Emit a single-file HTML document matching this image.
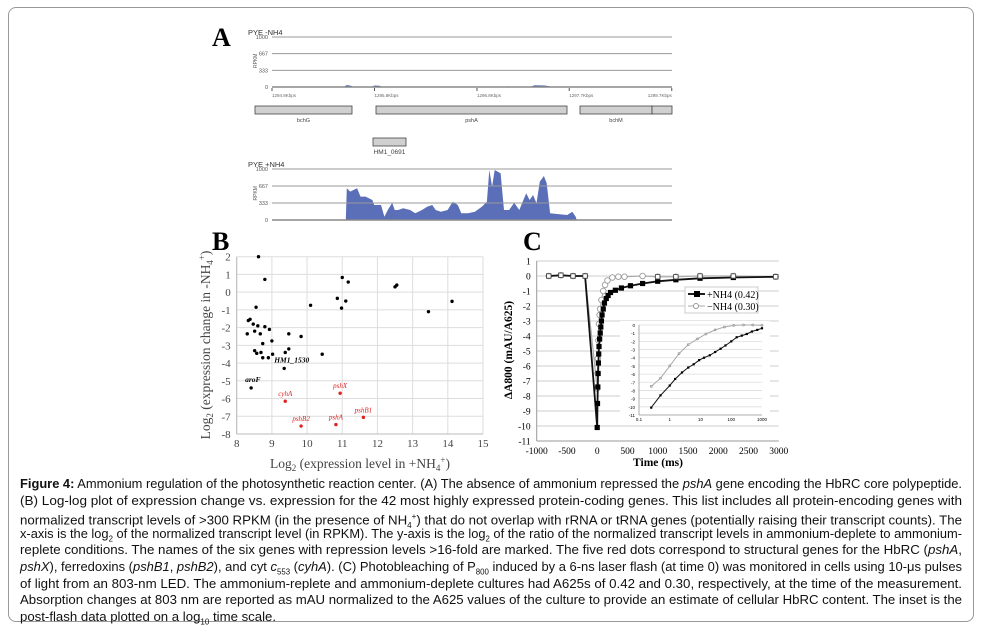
<!DOCTYPE html>
<html><head><meta charset="utf-8"><style>
body{margin:0;background:#fff;width:983px;height:634px;overflow:hidden;font-family:"Liberation Sans",sans-serif}
#frame{position:absolute;left:8px;top:7px;width:966px;height:615px;border:1px solid #999;border-radius:8px;box-sizing:border-box}
#cap{position:absolute;left:20px;top:476px;width:942px;font-family:"Liberation Sans",sans-serif;font-size:13.2px;line-height:16.6px;color:#111}
#cap div{white-space:nowrap;height:16.6px}
#cap div span.ln{display:inline-block;transform-origin:0 0}
sub{font-size:8px;line-height:0}
svg{position:absolute;left:0;top:0}
</style></head><body>
<div id="frame"></div>
<svg id="fig" width="983" height="634"></svg>
<div id="cap">
<div><span class="ln"><b>Figure 4:</b> Ammonium regulation of the photosynthetic reaction center. (A) The absence of ammonium repressed the <i>pshA</i> gene encoding the HbRC core polypeptide.</span></div>
<div><span class="ln">(B) Log-log plot of expression change vs. expression for the 42 most highly expressed protein-coding genes. This list includes all protein-encoding genes with</span></div>
<div><span class="ln">normalized transcript levels of &gt;300 RPKM (in the presence of NH<sub>4</sub><sup style="font-size:8px">+</sup>) that do not overlap with rRNA or tRNA genes (potentially raising their transcript counts). The</span></div>
<div><span class="ln">x-axis is the log<sub>2</sub> of the normalized transcript level (in RPKM). The y-axis is the log<sub>2</sub> of the ratio of the normalized transcript levels in ammonium-deplete to ammonium-</span></div>
<div><span class="ln">replete conditions. The names of the six genes with repression levels &gt;16-fold are marked. The five red dots correspond to structural genes for the HbRC (<i>pshA</i>,</span></div>
<div><span class="ln"><i>pshX</i>), ferredoxins (<i>pshB1</i>, <i>pshB2</i>), and cyt <i>c</i><sub>553</sub> (<i>cyhA</i>). (C) Photobleaching of P<sub>800</sub> induced by a 6-ns laser flash (at time 0) was monitored in cells using 10-μs pulses</span></div>
<div><span class="ln">of light from an 803-nm LED. The ammonium-replete and ammonium-deplete cultures had A625s of 0.42 and 0.30, respectively, at the time of the measurement.</span></div>
<div><span class="ln">Absorption changes at 803 nm are reported as mAU normalized to the A625 values of the culture to provide an estimate of cellular HbRC content. The inset is the</span></div>
<div><span class="ln" id="lastln">post-flash data plotted on a log<sub>10</sub> time scale.</span></div>
</div>
<script>
// ---- Panel A data ----
const covPlusKb=[0.72,0.73,0.763,0.83,0.863,0.913,0.98,0.997,1.063,1.097,1.13,1.173,1.197,1.23,1.28,1.347,1.397,1.463,1.513,1.563,1.597,1.647,1.713,1.763,1.813,1.847,1.913,1.98,2.047,2.097,2.12,2.147,2.173,2.23,2.263,2.313,2.363,2.413,2.48,2.513,2.547,2.58,2.613,2.653,2.68,2.713,2.78,2.88,2.93,2.963,2.973];
const covPlus=[0,621,556,621,458,458,392,294,294,65,196,340,196,196,229,196,131,196,261,294,196,163,196,359,294,131,131,163,261,359,980,654,980,915,196,196,340,196,523,392,490,327,752,863,719,131,118,98,163,65,0];
const covMinusKb=[0.70,0.73,0.77,0.80,0.97,1.0,1.05,1.08,2.25,2.30,2.34,2.52,2.56,2.66,2.72,2.75];
const covMinus=[0,40,25,0,0,30,25,0,0,15,0,0,35,30,10,0];
const rpkmTicks=[0,333,667,1000];
const coordLabels=["1294.8Kbps","1295.8Kbps","1296.8Kbps","1297.7Kbps","1298.7Kbps"];
const coordKb=[0,1,2,2.9,3.9];
// ---- Panel B data ----
const bX=[8.62,8.8,8.55,8.38,8.33,8.47,8.6,8.3,8.51,8.67,8.8,8.93,8.74,9.0,8.51,8.57,8.69,8.74,8.9,9.02,9.48,9.48,9.38,9.35,9.83,10.1,10.43,10.86,11.0,11.17,11.1,10.98,12.5,12.55,13.45,14.12,8.41];
const bY=[2.0,0.72,-0.85,-1.53,-1.6,-1.8,-1.9,-2.35,-2.2,-2.35,-1.95,-2.1,-2.9,-2.75,-3.3,-3.45,-3.4,-3.7,-3.7,-3.5,-2.35,-3.2,-3.4,-4.3,-2.5,-0.74,-3.5,-0.35,0.83,0.57,-0.5,-0.9,0.3,0.4,-1.1,-0.52,-5.4];
const redNames=["cyhA","pshX","pshB1","pshB2","pshA"];
const redX=[9.38,10.94,11.6,9.83,10.82];
const redY=[-6.15,-5.7,-7.06,-7.55,-7.47];
const bXTicks=[8,9,10,11,12,13,14,15];
const bYTicks=[2,1,0,-1,-2,-3,-4,-5,-6,-7,-8];
// ---- Panel C data ----
const plusT=[-800,-600,-400,-200,0,5,10,15,20,25,30,40,50,60,70,80,100,120,150,180,220,300,400,550,750,1000,1300,1700,2250,2950];
const plusV=[0,0.05,0,0,-10.1,-8.5,-7.4,-6.5,-5.8,-5.2,-4.7,-4.2,-3.8,-3.4,-3.0,-2.6,-2.2,-1.8,-1.5,-1.3,-1.1,-0.95,-0.8,-0.65,-0.5,-0.35,-0.25,-0.15,-0.1,-0.05];
const minusT=[-800,-600,-400,-200,0,5,10,20,30,40,50,70,100,130,170,250,350,450,750,1000,1300,1700,2250,2950];
const minusV=[0,0.05,0,0,-7.5,-6.5,-5.5,-4.3,-3.2,-2.6,-2.2,-1.6,-1.0,-0.6,-0.3,-0.1,-0.05,-0.05,0,-0.05,-0.05,0,0,-0.05];
const cXTicks=[-1000,-500,0,500,1000,1500,2000,2500,3000];
const cYTicks=[1,0,-1,-2,-3,-4,-5,-6,-7,-8,-9,-10,-11];
const inPlusT=[0.25,0.5,1,1.5,2.5,4,6,9,13,20,30,45,65,100,150,220,320,470,700,1000];
const inPlusV=[-10.1,-8.6,-7.4,-6.6,-5.8,-5.2,-4.8,-4.3,-4.0,-3.7,-3.3,-2.9,-2.5,-2.0,-1.5,-1.3,-1.1,-0.8,-0.6,-0.4];
const inMinusT=[0.25,0.5,1,2,4,8,15,30,60,120,250,500,1000];
const inMinusV=[-7.5,-6.5,-5.0,-3.5,-2.4,-1.7,-1.1,-0.6,-0.25,-0.05,0,0,-0.05];
const inXTicks=[0.1,1,10,100,1000];
const inXLabels=["0.1","1","10","100","1000"];

// caption line fitting
(function(){const lines=document.querySelectorAll('#cap span.ln');let last=1;
lines.forEach(s=>{if(s.id==='lastln')return;const w=s.getBoundingClientRect().width;last=942/w;s.style.transform='scaleX('+last+')';});
document.getElementById('lastln').style.transform='scaleX('+last+')';})();

const svg=document.getElementById('fig');
const NS='http://www.w3.org/2000/svg';
function mk(tag,at,parent,txt){const e=document.createElementNS(NS,tag);for(const k in at)e.setAttribute(k,at[k]);if(txt!==undefined)e.textContent=txt;(parent||svg).appendChild(e);return e;}

// ===== Panel A =====
const L=mk('text',{x:212,y:46,'font-family':'Liberation Serif','font-size':26,'font-weight':'bold'},svg,'A');

const ax=kb=>272+kb*102.5;
function track(top,bottom,title,kbs,vals,name){
  const g=mk('g',{});
  
  const ay=v=>bottom-(v/1000)*(bottom-top);
  let d='M'+ax(kbs[0])+','+bottom;
  kbs.forEach((k,i)=>{d+=' L'+ax(k).toFixed(1)+','+ay(vals[i]).toFixed(1);});
  d+=' L'+ax(kbs[kbs.length-1])+','+bottom+'Z';
  const p=mk('path',{d:d,fill:'#5a6fb8'},g);
  
  rpkmTicks.forEach(t=>{
    mk('line',{x1:272,x2:672,y1:ay(t),y2:ay(t),stroke:t==0?'#888':'#999','stroke-width':t==0?1.5:1},g);
    mk('text',{x:268,y:ay(t)+2,'font-size':5.5,'text-anchor':'end',fill:'#555'},g,String(t));
  });
  mk('text',{x:248,y:top-2,'font-size':7.5,fill:'#333'},g,title);
  mk('text',{x:0,y:0,'font-size':5,fill:'#555',transform:`translate(257,${(top+bottom)/2+6}) rotate(-90)`},g,'RPKM');
  return g;
}
track(37,87,'PYE -NH4',covMinusKb,covMinus,'track-minus-nh4');
coordKb.forEach((k,i)=>{mk('line',{x1:ax(k),x2:ax(k),y1:88,y2:91,stroke:'#555'});mk('text',{x:ax(k),y:97,'font-size':4.5,fill:'#666','text-anchor':i==4?'end':'start'},svg,coordLabels[i]);});
track(169,220,'PYE +NH4',covPlusKb,covPlus,'track-plus-nh4');
const genes=[['bchG',255,352,106],['pshA',376,567,106],['bchM',580,652,106],['',652,672,106],['HM1_0691',373,406,138]];
genes.forEach(g=>{
  const r=mk('rect',{x:g[1],y:g[3],width:g[2]-g[1],height:8,fill:'#d0d0d0',stroke:'#444','stroke-width':0.8});
  
  if(g[0])mk('text',{x:(g[1]+g[2])/2,y:g[3]+16,'font-size':g[0]=='HM1_0691'?6.5:5.5,'text-anchor':'middle',fill:'#444'},svg,g[0]);
});

// ===== Panel B =====
const B=mk('text',{x:212,y:250,'font-family':'Liberation Serif','font-size':26,'font-weight':'bold'},svg,'B');

const bx=v=>236.7+(v-8)*(483-236.7)/7, by=v=>256.7-(v-2)*(434-256.7)/10;
const gb=mk('g',{});
bXTicks.forEach(t=>{mk('line',{x1:bx(t),x2:bx(t),y1:by(2),y2:by(-8),stroke:'#ddd'},gb);mk('text',{x:bx(t),y:by(-8)+13,'font-family':'Liberation Serif','font-size':11,'text-anchor':'middle',fill:'#444'},gb,String(t));});
bYTicks.forEach(t=>{mk('line',{x1:bx(8),x2:bx(15),y1:by(t),y2:by(t),stroke:'#ddd'},gb);mk('text',{x:bx(8)-6,y:by(t)+4,'font-family':'Liberation Serif','font-size':11,'text-anchor':'end',fill:'#444'},gb,String(t));});
mk('line',{x1:bx(8),x2:bx(8),y1:by(2),y2:by(-8),stroke:'#bbb'},gb);
mk('line',{x1:bx(8),x2:bx(15),y1:by(-8),y2:by(-8),stroke:'#bbb'},gb);
bX.forEach((x,i)=>{const c=mk('circle',{cx:bx(x),cy:by(bY[i]),r:1.7,fill:'#000'},gb);});
redX.forEach((x,i)=>{const c=mk('circle',{cx:bx(x),cy:by(redY[i]),r:1.7,fill:'#d22'},gb);
  mk('text',{x:bx(x),y:by(redY[i])-5,'font-family':'Liberation Serif','font-size':7,'font-style':'italic','text-anchor':'middle',fill:'#d22'},gb,redNames[i]);});
mk('text',{x:bx(9.35)-10,y:by(-4.3)-6,'font-family':'Liberation Serif','font-size':7.5,'font-style':'italic','font-weight':'bold'},gb,'HM1_1530');
mk('text',{x:bx(8.41)-6,y:by(-5.4)-6,'font-family':'Liberation Serif','font-size':7.5,'font-style':'italic','font-weight':'bold'},gb,'aroF');
const bxt=mk('text',{x:360,y:468,'font-family':'Liberation Serif','font-size':13.5,'text-anchor':'middle',fill:'#444'},svg);
bxt.innerHTML='Log<tspan font-size="9" dy="3">2</tspan><tspan dy="-3"> (expression level in +NH</tspan><tspan font-size="9" dy="3">4</tspan><tspan font-size="9" dy="-8">+</tspan><tspan dy="5">)</tspan>';

const byt=mk('text',{x:0,y:0,'font-family':'Liberation Serif','font-size':13.5,'text-anchor':'middle',fill:'#444',transform:'translate(210,345) rotate(-90)'},svg);
byt.innerHTML='Log<tspan font-size="9" dy="3">2</tspan><tspan dy="-3"> (expression change in -NH</tspan><tspan font-size="9" dy="3">4</tspan><tspan font-size="9" dy="-8">+</tspan><tspan dy="5">)</tspan>';


// ===== Panel C =====
const C=mk('text',{x:523,y:250,'font-family':'Liberation Serif','font-size':26,'font-weight':'bold'},svg,'C');

const cx=t=>536.7+(t+1000)*(778.7-536.7)/4000, cy=v=>261+(1-v)*15;
const gc=mk('g',{});
cYTicks.forEach(t=>{mk('line',{x1:cx(-1000),x2:cx(3000),y1:cy(t),y2:cy(t),stroke:'#ccc'},gc);mk('text',{x:cx(-1000)-6,y:cy(t)+3.5,'font-family':'Liberation Serif','font-size':9.5,'text-anchor':'end'},gc,String(t));});
cXTicks.forEach(t=>{mk('text',{x:cx(t),y:cy(-11)+13,'font-family':'Liberation Serif','font-size':9.5,'text-anchor':'middle'},gc,String(t));});
mk('line',{x1:cx(-1000),x2:cx(-1000),y1:cy(1),y2:cy(-11),stroke:'#999'},gc);
mk('line',{x1:cx(-1000),x2:cx(3000),y1:cy(-11),y2:cy(-11),stroke:'#999'},gc);
function series(T,V,fx,fy,color,w,marker,name,par,ms){
  const g=mk('g',{},par);
  mk('polyline',{points:T.map((t,i)=>fx(t).toFixed(1)+','+fy(V[i]).toFixed(1)).join(' '),fill:'none',stroke:color,'stroke-width':w},g);
  T.forEach((t,i)=>{
    if(marker=='sq')mk('rect',{x:fx(t)-ms,y:fy(V[i])-ms,width:2*ms,height:2*ms,fill:'#000'},g);
    else mk('circle',{cx:fx(t),cy:fy(V[i]),r:ms,fill:'#fff',stroke:'#999','stroke-width':0.9},g);
  });
}
series(minusT,minusV,cx,cy,'#aaa',1.2,'ci','series-minus-nh4',gc,2.8);
series(plusT,plusV,cx,cy,'#111',1.8,'sq','series-plus-nh4',gc,2.6);
minusT.forEach((t,i)=>{if(t<0||t>=1000)mk('rect',{x:cx(t)-2.2,y:cy(minusV[i])-2.2,width:4.4,height:4.4,fill:'#fff',stroke:'#555','stroke-width':0.9},gc);});
// inset
const gi=mk('g',{});
mk('rect',{x:620,y:321,width:150,height:102,fill:'#fff'},gi);
const ix=t=>639+(Math.log10(t)+1)*(762-639)/4, iy=v=>325-v*(90/11);
for(let v=0;v>=-11;v--){mk('line',{x1:ix(0.1),x2:ix(1000),y1:iy(v),y2:iy(v),stroke:'#ddd','stroke-width':0.8},gi);mk('text',{x:ix(0.1)-4,y:iy(v)+2,'font-size':4.5,'text-anchor':'end'},gi,String(v));}
inXTicks.forEach((t,i)=>mk('text',{x:ix(t),y:iy(-11)+6,'font-size':4.5,'text-anchor':'middle'},gi,inXLabels[i]));
mk('line',{x1:ix(0.1),x2:ix(0.1),y1:iy(0),y2:iy(-11),stroke:'#999','stroke-width':0.8},gi);
mk('line',{x1:ix(0.1),x2:ix(1000),y1:iy(-11),y2:iy(-11),stroke:'#999','stroke-width':0.8},gi);
series(inMinusT,inMinusV,ix,iy,'#aaa',1,'ci','inset-minus-nh4',gi,0.9);
series(inPlusT,inPlusV,ix,iy,'#111',1,'sq','inset-plus-nh4',gi,1.1);
// legend
const lg=mk('g',{});
mk('rect',{x:685,y:287,width:73,height:26,fill:'#fff',stroke:'#ccc'},lg);
mk('line',{x1:688,x2:705,y1:294,y2:294,stroke:'#000','stroke-width':1.8},lg);mk('rect',{x:694,y:291,width:6,height:6,fill:'#000'},lg);
mk('text',{x:707,y:298,'font-family':'Liberation Serif','font-size':10},lg,'+NH4 (0.42)');
mk('line',{x1:688,x2:705,y1:306,y2:306,stroke:'#aaa'},lg);mk('circle',{cx:696,cy:306,r:2.5,fill:'#fff',stroke:'#999'},lg);
mk('text',{x:707,y:310,'font-family':'Liberation Serif','font-size':10},lg,'−NH4 (0.30)');
const cxt=mk('text',{x:658,y:466,'font-family':'Liberation Serif','font-size':11.5,'font-weight':'bold','text-anchor':'middle'},svg,'Time (ms)');

const cyt=mk('text',{x:0,y:0,'font-family':'Liberation Serif','font-size':11.5,'font-weight':'bold','text-anchor':'middle',transform:'translate(512,350) rotate(-90)'},svg,'ΔA800 (mAU/A625)');

</script>
</body></html>
